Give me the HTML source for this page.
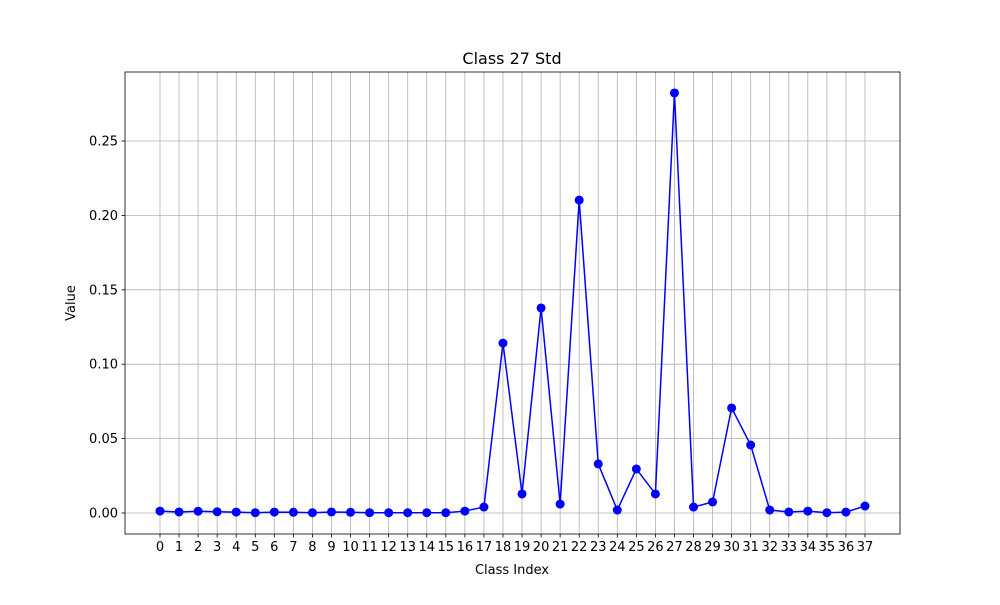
<!DOCTYPE html>
<html><head><meta charset="utf-8"><style>
body{margin:0;background:#fff;font-family:"Liberation Sans","DejaVu Sans",sans-serif;}
svg text{font-family:"DejaVu Sans","Liberation Sans",sans-serif;font-size:13px;fill:#000}
</style></head><body>
<svg id="chart" width="1000" height="600"></svg>
<script>
const categories=[...Array(38).keys()];
const values=[0.0013,0.0007,0.0012,0.0008,0.0006,0.0002,0.0006,0.0005,0.0002,0.0007,0.0005,0.0002,0.0002,0.0002,0.0002,0.0002,0.0013,0.004,0.1142,0.0128,0.1378,0.006,0.2103,0.033,0.002,0.0296,0.0128,0.2823,0.004,0.0074,0.0706,0.0457,0.002,0.0007,0.0013,0.0002,0.0006,0.0047];
const yTicks=[0,0.05,0.10,0.15,0.20,0.25];
const yTickLabels=["0.00","0.05","0.10","0.15","0.20","0.25"];
const NS="http://www.w3.org/2000/svg";
const svg=document.getElementById('chart');
const L=125,R=900,T=72,B=534;
const x=i=>160+i*(865-160)/37;
const y=v=>513-v*(513-141)/0.25;
function mk(t,a,txt){const e=document.createElementNS(NS,t);for(const k in a)e.setAttribute(k,a[k]);if(txt!==undefined)e.textContent=txt;svg.appendChild(e);return e;}
categories.forEach((c,i)=>{
 const g=mk('line',{x1:x(i),x2:x(i),y1:T,y2:B,stroke:'#b0b0b0','stroke-width':0.8});
 
 
 const t=mk('line',{x1:x(i),x2:x(i),y1:B,y2:B+3.5,stroke:'#000','stroke-width':0.8});
 
 
 const l=mk('text',{x:x(i),y:B+17,'text-anchor':'middle'},String(c));
 
 
});
yTicks.forEach((v,i)=>{
 const g=mk('line',{x1:L,x2:R,y1:y(v),y2:y(v),stroke:'#b0b0b0','stroke-width':0.8});
 
 
 const t=mk('line',{x1:L-3.5,x2:L,y1:y(v),y2:y(v),stroke:'#000','stroke-width':0.8});
 
 
 const l=mk('text',{x:L-7,y:y(v)+4.5,'text-anchor':'end'},yTickLabels[i]);
 
 
});
const fr=mk('rect',{x:L,y:T,width:R-L,height:B-T,fill:'none',stroke:'#000','stroke-width':0.8});


const ln=mk('polyline',{points:values.map((v,i)=>x(i)+','+y(v)).join(' '),fill:'none',stroke:'#0000ff','stroke-width':1.5});


values.forEach((v,i)=>{
 const p=mk('circle',{cx:x(i),cy:y(v),r:4.5,fill:'#0000ff'});
 
 
});
const tt=mk('text',{x:512,y:64,'text-anchor':'middle',style:'font-size:16px'},'Class 27 Std');


const xt=mk('text',{x:512,y:574,'text-anchor':'middle'},'Class Index');


const yt=mk('text',{x:75,y:303,'text-anchor':'middle',transform:'rotate(-90 75 303)'},'Value');


</script>
</body></html>
